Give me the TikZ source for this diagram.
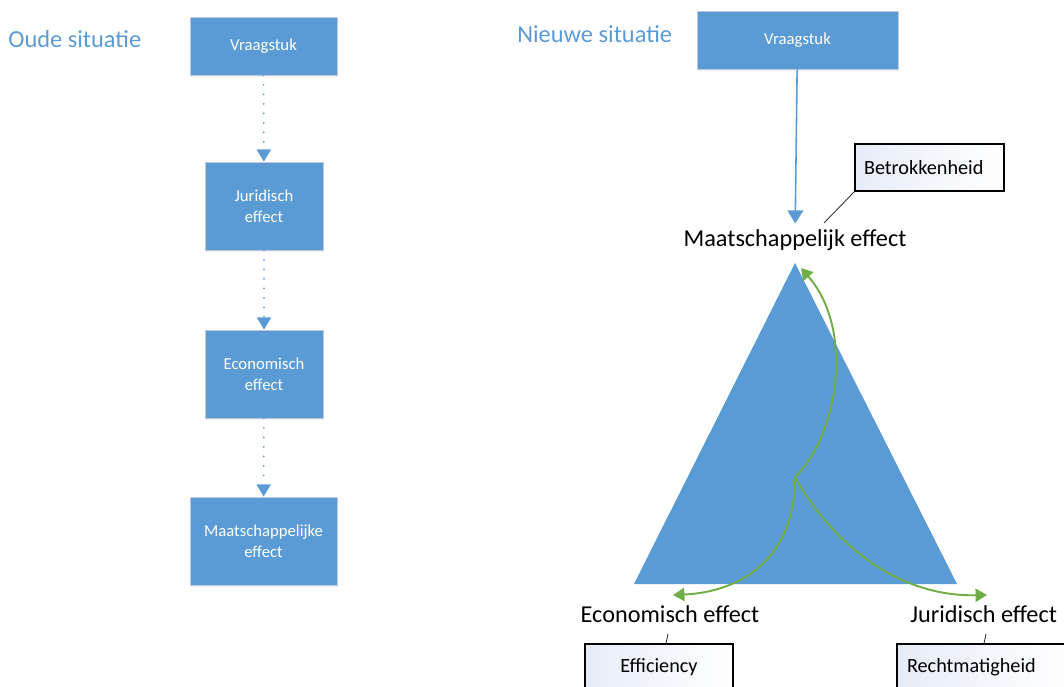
\documentclass[tikz,border=0pt]{standalone}
\usepackage{fontspec}
\setmainfont{Carlito}
\usetikzlibrary{arrows.meta}
\usetikzlibrary{shadows}
\definecolor{vakblauw}{RGB}{91,155,213}
\definecolor{pijlgroen}{RGB}{112,173,71}
\definecolor{randgrijs}{RGB}{192,202,218}
\definecolor{wolkblauw}{RGB}{230,236,247}

\tikzset{
  vak/.style={draw=randgrijs, fill=vakblauw, text=white, align=center, inner sep=0pt,
    font=\fontsize{9.5}{11.8}\selectfont,
    drop shadow={opacity=0.12, shadow xshift=0.6pt, shadow yshift=-1pt}},
  kop/.style={anchor=base west, inner sep=0pt, text=vakblauw, font=\fontsize{13.9}{16}\selectfont},
  hoek/.style={inner sep=0pt, font=\fontsize{13.8}{16}\selectfont},
  wolk/.style={draw=black, line width=0.7pt, left color=wolkblauw, right color=white,
    inner sep=0pt, font=\fontsize{11.5}{13}\selectfont},
  stippel/.style={vakblauw, line width=1.1pt, line cap=round, dash pattern=on 0.01pt off 5.4pt,
    -{Triangle[width=8pt,length=7pt]}},
  blauwpijl/.style={vakblauw, line width=0.9pt, -{Triangle[width=9pt,length=7.5pt]}},
  groen/.style={pijlgroen, line width=1.1pt, -{Triangle[width=7.5pt,length=6.5pt]}},
  wijzer/.style={black!80, line width=0.5pt}
}

\begin{document}
\begin{tikzpicture}[x=0.02cm,y=-0.02cm]
\useasboundingbox (0,0) rectangle (1064,686);

% oude situatie
\node[kop] (oud) at (8,48) {Oude situatie};
\node[vak, minimum width=2.94cm, minimum height=1.16cm] (vraagOud) at (263.5,46) {Vraagstuk};
\node[vak, minimum width=2.36cm, minimum height=1.76cm] (jurOud) at (264,206) {Juridisch\\effect};
\node[vak, minimum width=2.36cm, minimum height=1.76cm] (ecoOud) at (264,374) {Economisch\\effect};
\node[vak, minimum width=2.94cm, minimum height=1.76cm] (maatOud) at (263.5,541) {Maatschappelijke\\effect};
\draw[stippel] (vraagOud) -- (jurOud);
\draw[stippel] (jurOud) -- (ecoOud);
\draw[stippel] (ecoOud) -- (maatOud);

% nieuwe situatie
\node[kop] (nieuw) at (517,43) {Nieuwe situatie};
\node[vak, minimum width=4.02cm, minimum height=1.16cm] (vraagNieuw) at (797.5,40) {Vraagstuk};

\coordinate (top) at (795,263);
\coordinate (links) at (634,584);
\coordinate (rechts) at (957,584);
\coordinate (midden) at (795,477);
\fill[vakblauw] (top) -- (links) -- (rechts) -- cycle;

\coordinate (pijlTop) at (801,268);
\coordinate (pijlEco) at (673,595);
\coordinate (pijlJur) at (987,595);
\draw[groen] (midden) .. controls (838,435) and (855,330) .. (pijlTop);
\draw[groen] (midden) .. controls (795,560) and (740,592) .. (pijlEco);
\draw[groen] (midden) .. controls (830,540) and (895,597) .. (pijlJur);

\node[hoek, anchor=base] (maatNieuw) at (795,246) {Maatschappelijk effect};
\node[hoek, anchor=base] (ecoNieuw) at (670,622) {Economisch effect};
\node[hoek, anchor=base west] (jurNieuw) at (910,622) {Juridisch effect};
\draw[blauwpijl, shorten >=3pt] (vraagNieuw) -- (maatNieuw);

% toelichtingen
\node[wolk, minimum width=2.98cm, minimum height=0.94cm, text width=2.62cm, align=left] (betrok) at (929.5,167.5) {Betrokkenheid};
\node[wolk, minimum width=2.96cm, minimum height=0.92cm, align=center] (effic) at (659,667) {Efficiency};
\node[wolk, minimum width=3.46cm, minimum height=0.92cm, text width=3.06cm, align=left] (recht) at (983.5,667) {Rechtmatigheid};
\coordinate (betrokTik) at (824,223);
\coordinate (ecoTik) at (668,634);
\coordinate (jurTik) at (986,634);
\draw[wijzer] (betrok.south west) -- (betrokTik);
\draw[wijzer] (effic.north -| 666,0) -- (ecoTik);
\draw[wijzer] (recht.north -| 984,0) -- (jurTik);
\end{tikzpicture}
\end{document}
